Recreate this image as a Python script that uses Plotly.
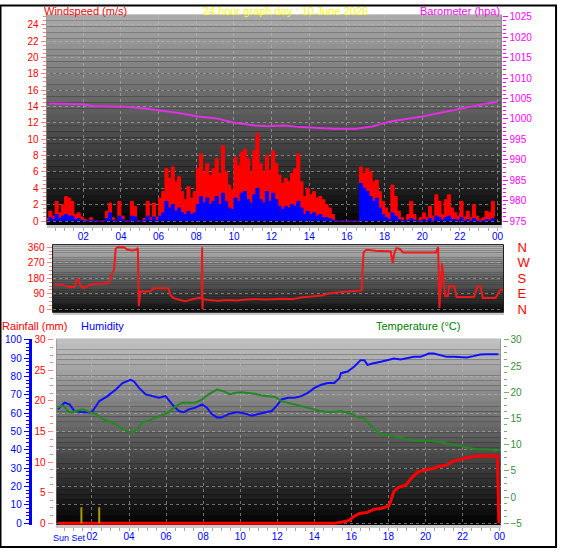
import plotly.graph_objects as go

W, H = 566, 555

# ---------------- data ----------------
hour_ticks = [2, 4, 6, 8, 10, 12, 14, 16, 18, 20, 22, 24]
hour_labels = ['02', '04', '06', '08', '10', '12', '14', '16', '18', '20', '22', '00']

# wind, 10 minute samples (m/s)
wind_gust = [
    0.3, 1.2, 0.6, 2.4, 1.0, 2.0,
    3.0, 2.8, 2.4, 0.8, 1.0, 0.5,
    0.2, 0.0, 0.4, 0.0, 0.0, 0.0,
    0.0, 1.2, 2.2, 0.4, 0.0, 2.4,
    0.6, 0.0, 0.0, 2.4, 1.8, 0.0,
    0.0, 0.3, 2.4, 0.4, 2.2, 0.5,
    2.8, 3.6, 6.4, 5.2, 6.6, 4.8,
    5.4, 3.6, 2.6, 4.2, 2.8, 3.6,
    6.4, 8.2, 6.0, 7.0, 5.6, 6.4,
    7.6, 5.8, 9.2, 6.0, 4.4, 3.8,
    7.8, 6.8, 8.4, 8.8, 7.6, 6.0,
    8.6, 10.7, 7.0, 6.0, 8.0, 6.2,
    8.6, 7.0, 5.6, 4.6, 5.2, 4.8,
    5.8, 6.4, 8.2, 4.8, 3.0, 4.0,
    3.2, 3.6, 2.8, 3.0, 2.6, 2.0,
    1.6, 0.8, 0.0, 0.0, 0.0, 0.0,
    0.0, 0.0, 0.0, 0.0, 6.6, 5.8,
    6.4, 6.0, 4.8, 5.0, 3.6, 2.4,
    1.6, 1.0, 4.4, 3.0, 1.2, 0.4,
    0.0, 0.8, 2.4, 0.8, 0.0, 0.4,
    1.0, 0.4, 1.8, 0.6, 3.2, 2.4,
    0.8, 2.6, 3.2, 1.6, 1.0, 0.6,
    2.4, 0.5, 1.2, 0.4, 2.0, 0.6,
    0.2, 0.4, 1.2, 1.0, 2.4, 0.6,
]
wind_avg = [
    0.1, 0.4, 0.2, 0.8, 0.3, 0.6,
    0.8, 0.6, 0.6, 0.2, 0.3, 0.1,
    0.0, 0.0, 0.1, 0.0, 0.0, 0.0,
    0.0, 0.3, 1.0, 0.1, 0.0, 0.6,
    0.2, 0.0, 0.0, 0.6, 0.5, 0.0,
    0.0, 0.1, 0.6, 0.1, 0.5, 0.1,
    0.6, 1.0, 2.4, 1.6, 2.0, 1.2,
    1.6, 1.0, 0.8, 1.2, 0.8, 1.0,
    2.0, 3.0, 2.2, 2.8, 2.0, 2.4,
    3.0, 2.0, 3.4, 2.4, 1.6, 1.4,
    2.8, 2.4, 3.4, 3.6, 2.6, 2.2,
    3.2, 4.0, 2.6, 2.2, 3.6, 2.4,
    3.4, 2.6, 1.8, 1.4, 1.8, 1.6,
    2.0, 1.8, 2.4, 1.6, 0.8, 1.2,
    0.8, 1.0, 0.6, 0.8, 0.4, 0.4,
    0.3, 0.1, 0.0, 0.0, 0.0, 0.0,
    0.0, 0.0, 0.0, 0.0, 4.6, 4.0,
    3.6, 3.0, 2.4, 2.8, 1.6, 0.8,
    0.4, 0.2, 1.0, 0.6, 0.2, 0.1,
    0.0, 0.1, 0.3, 0.1, 0.0, 0.0,
    0.2, 0.0, 0.3, 0.0, 0.6, 0.4,
    0.1, 0.4, 0.6, 0.2, 0.2, 0.1,
    0.4, 0.0, 0.2, 0.0, 0.3, 0.0,
    0.0, 0.0, 0.2, 0.1, 0.3, 0.0,
]
wind_hours = [i / 6 for i in range(len(wind_gust))]

baro_hours = [0.16, 2.0, 2.5, 4.1, 5.16, 6.0, 6.9, 8.1, 9.0, 10.1, 11.1, 11.8,
              12.67, 13.5, 15.3, 16.5, 17.4, 18.3, 19.2, 20.0, 21.3, 22.3, 23.2, 24.0]
baro_hpa = [1003.8, 1003.6, 1003.2, 1003.0, 1002.6, 1002.2, 1001.6, 1000.6, 1000.2, 999.0, 998.4, 998.2,
            998.4, 998.0, 997.6, 997.6, 998.2, 999.4, 1000.0, 1000.6, 1001.8, 1002.8, 1003.6, 1004.2]

dir_hours = [0.1, 0.54, 0.9, 1.16, 1.28, 1.37, 1.51, 1.69, 1.95, 2.3, 2.65, 3.0, 3.13, 3.27, 3.36,
             3.45, 3.8, 3.97, 4.24, 4.45, 4.54, 4.59, 4.68, 4.85, 5.2, 5.38, 5.82, 6.17, 6.26, 6.43,
             6.7, 7.05, 7.4, 7.75, 7.94, 7.96, 7.98, 8.0, 8.3, 8.8, 9.3, 9.8, 10.3, 10.8, 11.3, 11.8,
             12.3, 12.8, 13.3, 13.8, 14.3, 14.8, 15.3, 15.8, 16.2, 16.45, 16.55, 16.7, 17.2, 17.8,
             18.0, 18.1, 18.2, 18.3, 18.48, 18.65, 20.41, 20.52, 20.59, 20.73, 20.9, 21.03, 21.11,
             21.38, 21.5, 22.43, 22.61, 22.78, 22.9, 23.57, 23.84, 24.0]
dir_deg = [146, 142, 129, 129, 170, 174, 133, 123, 142, 148, 148, 152, 199, 227, 350,
           360, 360, 347, 341, 345, 356, 19, 104, 104, 104, 123, 123, 123, 85, 66,
           57, 47, 57, 66, 64, 360, 0, 60, 55, 50, 55, 52, 58, 60, 57, 60,
           62, 60, 70, 75, 80, 95, 100, 105, 108, 110, 330, 345, 340, 338,
           335, 270, 330, 355, 350, 330, 330, 360, 9, 265, 76, 76, 136,
           136, 72, 72, 133, 133, 66, 66, 114, 114]

hum_hours = [0.16, 0.52, 0.79, 1.05, 1.41, 1.86, 2.04, 2.4, 2.84, 3.29, 3.65, 4.09, 4.27, 4.54,
             4.9, 5.25, 5.61, 5.97, 6.33, 6.68, 6.95, 7.22, 7.58, 7.94, 8.2, 8.47, 8.74, 9.0,
             9.37, 9.72, 9.99, 10.35, 10.62, 10.97, 11.33, 11.69, 11.96, 12.23, 12.58, 12.94,
             13.3, 13.65, 14.01, 14.37, 14.73, 15.08, 15.35, 15.44, 15.8, 16.16, 16.5, 16.7,
             16.87, 17.14, 17.59, 17.9, 18.3, 18.66, 19.0, 19.37, 19.73, 20.18, 20.45, 20.8,
             21.16, 21.52, 21.88, 22.23, 22.59, 22.95, 23.3, 23.93]
humidity = [62.1, 65.7, 64.8, 61.2, 60.7, 60.4, 61.2, 66.6, 69.3, 72.9, 76.4, 78.2, 77.3, 73.8,
            70.2, 69.3, 68.4, 69.3, 64.8, 61.2, 60.4, 62.1, 63.0, 64.8, 63.0, 59.5, 57.7, 57.7,
            59.5, 60.4, 60.4, 59.5, 58.6, 59.5, 60.4, 61.2, 63.9, 67.5, 68.4, 68.4,
            69.3, 71.1, 73.8, 75.5, 76.4, 76.4, 79.1, 81.8, 82.7, 85.4, 88.9, 88.9,
            86.3, 87.1, 88.0, 88.9, 89.8, 89.3, 89.8, 90.7, 90.7, 92.5, 92.5, 91.6,
            90.7, 90.7, 90.7, 90.4, 91.1, 92.0, 92.1, 92.1]

temp_hours = [0.16, 0.43, 0.79, 1.14, 1.5, 1.86, 2.22, 2.57, 2.93, 3.29, 3.65, 4.0, 4.27, 4.45,
              4.72, 5.08, 5.43, 5.79, 6.15, 6.5, 6.86, 7.22, 7.58, 7.94, 8.29, 8.74, 9.1, 9.45,
              9.72, 10.08, 10.44, 10.8, 11.15, 11.51, 11.87, 12.23, 12.58, 12.94, 13.3, 13.65,
              14.0, 14.37, 14.73, 15.08, 15.44, 15.8, 16.07, 16.3, 16.7, 17.05, 17.4, 17.77,
              18.1, 18.5, 19.0, 19.37, 19.73, 20.27, 20.8, 21.16, 21.7, 22.23, 22.77, 23.3,
              23.75, 24.0]
temperature = [17.06, 17.5, 16.1, 16.4, 16.75, 16.25, 15.8, 14.9, 14.4, 13.9, 13.0, 12.4, 12.4, 13.0,
               14.25, 14.6, 15.2, 15.6, 16.25, 17.25, 18.0, 18.0, 18.0, 18.6, 19.6, 20.5, 20.2, 19.6,
               19.9, 20.0, 19.9, 19.7, 19.4, 19.25, 19.1, 18.3, 18.0, 17.7, 17.4, 17.1,
               16.75, 16.4, 16.25, 16.25, 16.4, 16.1, 15.8, 15.2, 15.0, 13.6, 12.4, 11.9,
               11.75, 11.4, 11.0, 10.8, 10.7, 10.7, 10.5, 10.2, 9.9, 9.4, 9.1, 9.1,
               8.9, 9.0]

rain_hours = [0.16, 15.08, 15.44, 15.89, 16.07, 16.43, 16.87, 17.23, 17.59, 18.03, 18.12, 18.3,
              18.57, 18.93, 19.1, 19.37, 19.64, 20.1, 20.45, 20.7, 21.16, 21.43, 21.88, 22.23,
              22.77, 23.3, 23.88, 23.96]
rain_mm = [0, 0, 0.16, 0.43, 0.96, 1.6, 1.77, 2.3, 2.4, 2.84, 3.6, 5.25,
           5.9, 6.2, 6.86, 7.77, 8.46, 8.73, 9.0, 9.27, 9.53, 10.07, 10.44, 10.7,
           10.98, 11.03, 11.03, 0]

sun_hours = [1.43, 2.39]
sun_mark_mm = 2.6

# ---------------- helpers ----------------
FONT = 'Liberation Sans, Arial, sans-serif'
PINK = '#FF8080'
GRID = dict(showgrid=True, gridcolor='rgba(190,190,190,0.55)', griddash='dot', gridwidth=1)


def fx(p):
    return p / W


def fy(p):
    return 1 - p / H


shapes = []


def gradient(xa, ya, top, bottom, n=36):
    for i in range(n):
        t = (i + 0.5) / n
        v = int(round(bottom + (top - bottom) * t))
        shapes.append(dict(type='rect', xref=xa + ' domain', yref=ya + ' domain',
                           x0=0, x1=1, y0=i / n, y1=(i + 1) / n,
                           fillcolor='rgb(%d,%d,%d)' % (v, v, v),
                           line=dict(width=0), layer='below'))


gradient('x', 'y', 172, 2)
gradient('x2', 'y3', 185, 12)
gradient('x3', 'y5', 195, 0)

fig = go.Figure()

# top panel: wind + barometer
fig.add_trace(go.Scatter(x=wind_hours, y=wind_gust, xaxis='x', yaxis='y', mode='lines',
                         line=dict(color='#FF0000', width=1, shape='hv'),
                         fill='tozeroy', fillcolor='#FF0000'))
fig.add_trace(go.Scatter(x=wind_hours, y=wind_avg, xaxis='x', yaxis='y', mode='lines',
                         line=dict(color='#0000FF', width=1, shape='hv'),
                         fill='tozeroy', fillcolor='#0000FF'))
fig.add_trace(go.Scatter(x=baro_hours, y=baro_hpa, xaxis='x', yaxis='y2', mode='lines',
                         line=dict(color='#E030E0', width=2)))

# middle panel: wind direction
fig.add_trace(go.Scatter(x=dir_hours, y=dir_deg, xaxis='x2', yaxis='y3', mode='lines',
                         line=dict(color='#F01818', width=2)))
fig.add_trace(go.Scatter(x=dir_hours, y=dir_deg, xaxis='x2', yaxis='y4', mode='lines',
                         line=dict(width=0), opacity=0, hoverinfo='skip'))

# bottom panel: humidity, temperature, rain
fig.add_trace(go.Scatter(x=hum_hours, y=humidity, xaxis='x3', yaxis='y5', mode='lines',
                         line=dict(color='#1010FF', width=2)))
fig.add_trace(go.Scatter(x=temp_hours, y=temperature, xaxis='x3', yaxis='y7', mode='lines',
                         line=dict(color='#208A20', width=2)))
fig.add_trace(go.Scatter(x=rain_hours, y=rain_mm, xaxis='x3', yaxis='y6', mode='lines',
                         line=dict(color='#FF0000', width=3)))
sx, sy = [], []
for h in sun_hours:
    sx += [h, h, None]
    sy += [0, sun_mark_mm, None]
fig.add_trace(go.Scatter(x=sx, y=sy, xaxis='x3', yaxis='y6', mode='lines',
                         line=dict(color='#A89A00', width=2)))

xcommon = dict(tickmode='array', tickvals=hour_ticks, ticktext=hour_labels,
               tickfont=dict(color='#0000FF', size=10, family=FONT), ticks='',
               showline=True, linecolor='#C8C8C8', linewidth=3, zeroline=False,
               minor=dict(dtick=0.5, tick0=0, ticks='outside', ticklen=3, tickcolor='#A8A8A8', showgrid=False),
               **GRID)


def ytick(color, tickcolor, dtick, tick0, minor):
    return dict(dtick=dtick, tick0=tick0, tickfont=dict(color=color, size=10, family=FONT),
                ticks='outside', ticklen=5, tickcolor=tickcolor, zeroline=False,
                minor=dict(dtick=minor, tick0=tick0, ticks='outside', ticklen=3, tickcolor=tickcolor))


fig.update_layout(
    width=W, height=H,
    margin=dict(l=0, r=0, t=0, b=0),
    paper_bgcolor='white', plot_bgcolor='black',
    showlegend=False,
    font=dict(family=FONT, size=10),
    xaxis=dict(domain=[fx(47), fx(506)], range=[0.05, 24.21], anchor='y', **xcommon),
    yaxis=dict(domain=[fy(224), fy(10)], range=[-0.48, 25.2], anchor='x',
               **ytick('#FF0000', PINK, 2, 0, 0.5), **GRID),
    yaxis2=dict(overlaying='y', side='right', anchor='x', range=[974.04, 1025.5], showgrid=False,
                **ytick('#FF00FF', '#FF00FF', 5, 975, 1)),
    xaxis2=dict(domain=[fx(53), fx(508)], range=[0, 24], anchor='y3', showticklabels=False,
                showgrid=False, ticks='', zeroline=False,
                showline=True, linecolor='#C8C8C8', linewidth=3),
    yaxis3=dict(domain=[fy(313), fy(244)], range=[-17, 375], anchor='x2',
                tickmode='array', tickvals=[0, 90, 180, 270, 360],
                tickfont=dict(color='#FF0000', size=10, family=FONT),
                ticks='outside', ticklen=5, tickcolor=PINK, zeroline=False,
                minor=dict(tickmode='linear', dtick=22.5, tick0=0, ticks='outside', ticklen=3, tickcolor=PINK),
                **GRID),
    yaxis4=dict(overlaying='y3', side='right', anchor='free', position=fx(521), range=[-17, 375],
                tickmode='array', tickvals=[0, 90, 180, 270, 360], ticktext=['N', 'E', 'S', 'W', 'N'],
                tickfont=dict(color='#FF0000', size=13, family=FONT), ticks='', showgrid=False,
                zeroline=False),
    xaxis3=dict(domain=[fx(57), fx(505)], range=[0.086, 24.05], anchor='y5', **xcommon),
    yaxis5=dict(domain=[fy(530), fy(340)], range=[-1.2, 100.5], anchor='free', position=fx(30),
                showline=True, linecolor='#0000FF', linewidth=3,
                **ytick('#0000FF', '#0000FF', 10, 0, 2), **GRID),
    yaxis6=dict(overlaying='y5', anchor='free', position=fx(53), side='left', range=[-0.37, 30.16],
                showgrid=False, **ytick('#FF0000', PINK, 5, 0, 1.25)),
    yaxis7=dict(overlaying='y5', anchor='free', position=fx(507), side='right', range=[-5.43, 30.19],
                showgrid=False, **ytick('#3C8C3C', '#70B070', 5, 0, 1.25)),
    shapes=shapes,
)

# frame around the whole picture
fig.add_shape(type='rect', xref='paper', yref='paper', x0=fx(0.5), x1=fx(561), y0=fy(552), y1=fy(0.5),
              line=dict(color='black', width=2), layer='above')
fig.add_shape(type='rect', xref='x2 domain', yref='y3 domain', x0=0, x1=1, y0=0, y1=1,
              line=dict(color='#202020', width=1), layer='above')


def note(text, x, y, color, anchor='left', size=11):
    fig.add_annotation(text=text, xref='paper', yref='paper', x=fx(x), y=fy(y),
                       xanchor=anchor, yanchor='middle', showarrow=False,
                       font=dict(color=color, size=size, family=FONT))


note('Windspeed (m/s)', 42, 6, '#FF0000')
note('24 hour graph day : 10 June 2026', 288, 6, '#FFFF00', 'center')
note('Barometer (hpa)', 506, 6, '#FF00FF', 'right')
note('Rainfall (mm)', 0, 327, '#FF0000')
note('Humidity', 80, 327, '#0000FF')
note('Temperature (°C)', 377, 327, '#008000')
note('Sun Set', 70, 543, '#0000FF', 'center', 9)

# the page body has a default margin; drop it so the figure fills the window
fig.write_html("out.html", config={'displayModeBar': False},
               post_script="document.body.style.margin='0';")
